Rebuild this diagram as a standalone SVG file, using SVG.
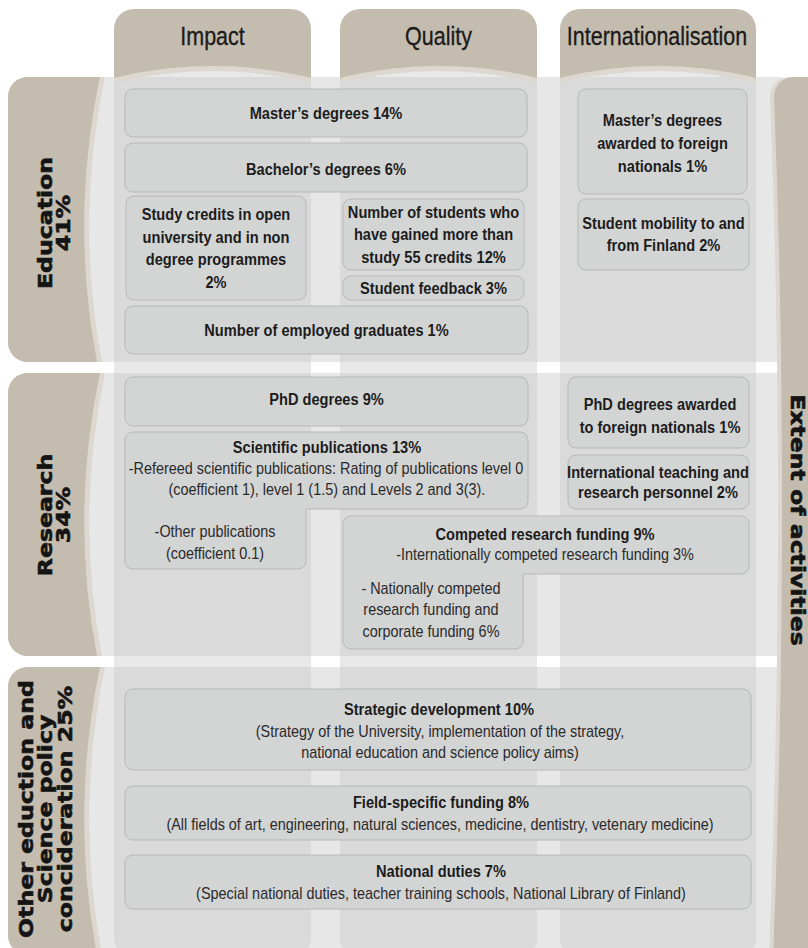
<svg xmlns="http://www.w3.org/2000/svg" width="808" height="948" viewBox="0 0 808 948">
<style>
.bg{fill:#ffffff}
.col{fill:#e8e8e8}
.colin{fill:#dadada}
.row{fill:#e7e7e7}
.beige{fill:#c4bcaf}
.band{fill:#ddd8cf}
.box{fill:#d3d4d4;stroke:#b8b8b8;stroke-width:1}
.hdr{font-family:'Liberation Sans',Arial,sans-serif;font-size:25px;fill:#1a1a1a;stroke:#1a1a1a;stroke-width:0.3px;text-anchor:middle}
.b{font-family:'Liberation Sans',Arial,sans-serif;font-size:17px;font-weight:bold;fill:#1c1c1c;text-anchor:middle}
.r{font-family:'Liberation Sans',Arial,sans-serif;font-size:16px;fill:#2a2a2a;text-anchor:middle}
.lab{font-family:'DejaVu Sans',sans-serif;font-size:20px;font-weight:bold;fill:#141414;stroke:#141414;stroke-width:0.6px;text-anchor:middle}
</style>
<defs>
<path id="colImpact" d="M114,60 H311 V940 A10 10 0 0 1 301,950 H124 A10 10 0 0 1 114,940 Z"/>
<path id="colQuality" d="M340,60 H537 V940 A10 10 0 0 1 527,950 H350 A10 10 0 0 1 340,940 Z"/>
<path id="colIntl" d="M560,60 H756 V940 A10 10 0 0 1 746,950 H570 A10 10 0 0 1 560,940 Z"/>
<clipPath id="rowsClip">
<rect x="8" y="77" width="800" height="285"/>
<rect x="8" y="373" width="800" height="283"/>
<rect x="8" y="667" width="800" height="290"/>
</clipPath>
</defs>
<rect class="bg" x="0" y="0" width="808" height="948"/>

<g id="background">
<use href="#colImpact" class="col"/>
<use href="#colQuality" class="col"/>
<use href="#colIntl" class="col"/>
<rect class="row" x="8" y="77" width="790" height="285" rx="20"/>
<rect class="row" x="8" y="373" width="790" height="283" rx="20"/>
<rect class="row" x="8" y="667" width="790" height="288" rx="20"/>
<g clip-path="url(#rowsClip)">
<use href="#colImpact" class="colin"/>
<use href="#colQuality" class="colin"/>
<use href="#colIntl" class="colin"/>
</g>
</g>

<g id="header-impact">
<path class="band" d="M114,83 V78 Q212.5,54 311,78 V83 Q212.5,59 114,83 Z"/>
<path class="beige" d="M114,78 V29 A20 20 0 0 1 134,9 H291 A20 20 0 0 1 311,29 V78 Q212.5,54 114,78 Z"/>
<text class="hdr" transform="translate(212.5 0) scale(.86 1)" x="0" y="45">Impact</text>
</g>
<g id="header-quality">
<path class="band" d="M340,83 V78 Q438.5,54 537,78 V83 Q438.5,59 340,83 Z"/>
<path class="beige" d="M340,78 V29 A20 20 0 0 1 360,9 H517 A20 20 0 0 1 537,29 V78 Q438.5,54 340,78 Z"/>
<text class="hdr" transform="translate(438.5 0) scale(.86 1)" x="0" y="45">Quality</text>
</g>
<g id="header-intl">
<path class="band" d="M560,83 V78 Q658,54 756,78 V83 Q658,59 560,83 Z"/>
<path class="beige" d="M560,78 V29 A20 20 0 0 1 580,9 H736 A20 20 0 0 1 756,29 V78 Q658,54 560,78 Z"/>
<text class="hdr" transform="translate(657 0) scale(.86 1)" x="0" y="45">Internationalisation</text>
</g>

<g id="row-education">
<path class="band" d="M28,77 H105 Q75,219.5 102,362 H28 A20 20 0 0 1 8,342 V97 A20 20 0 0 1 28,77 Z"/>
<path class="beige" d="M28,77 H100 Q70,219.5 97,362 H28 A20 20 0 0 1 8,342 V97 A20 20 0 0 1 28,77 Z"/>
<g transform="translate(0,223) rotate(-90) scale(1.18 1)">
<text class="lab" x="0" y="52">Education</text>
<text class="lab" x="0" y="70">41%</text>
</g>
</g>
<g id="row-research">
<path class="band" d="M28,373 H105 Q75,514.5 102,656 H28 A20 20 0 0 1 8,636 V393 A20 20 0 0 1 28,373 Z"/>
<path class="beige" d="M28,373 H100 Q70,514.5 97,656 H28 A20 20 0 0 1 8,636 V393 A20 20 0 0 1 28,373 Z"/>
<g transform="translate(0,515) rotate(-90) scale(1.18 1)">
<text class="lab" x="0" y="52">Research</text>
<text class="lab" x="0" y="70">34%</text>
</g>
</g>
<g id="row-other">
<path class="band" d="M28,667 H105 Q75,811 102,955 H28 A20 20 0 0 1 8,935 V687 A20 20 0 0 1 28,667 Z"/>
<path class="beige" d="M28,667 H100 Q70,811 97,955 H28 A20 20 0 0 1 8,935 V687 A20 20 0 0 1 28,667 Z"/>
<g transform="translate(0,809) rotate(-90) scale(1.18 1)">
<text class="lab" x="0" y="33">Other eduction and</text>
<text class="lab" x="0" y="52">Science policy</text>
<text class="lab" x="0" y="72">concideration 25%</text>
</g>
</g>
<g id="extent">
<path class="band" d="M770,97 A20 20 0 0 1 790,77 H830 V960 H769 Q786.5,512 770,97 Z"/>
<path class="beige" d="M774,97 A20 20 0 0 1 794,77 H830 V960 H773 Q790.5,512 774,97 Z"/>
<text class="lab" transform="translate(791,520) rotate(90) scale(1.18 1)" x="0" y="0">Extent of activities</text>
</g>

<g id="masters">
<rect class="box" x="125" y="89" width="402" height="48" rx="8"/>
<text class="b" transform="translate(326 0) scale(.86 1)" x="0" y="119">Master’s degrees 14%</text>
</g>
<g id="bachelors">
<rect class="box" x="125" y="143" width="402" height="49" rx="8"/>
<text class="b" transform="translate(326 0) scale(.86 1)" x="0" y="175">Bachelor’s degrees 6%</text>
</g>
<g id="study-credits">
<rect class="box" x="126" y="196" width="180" height="104" rx="8"/>
<g transform="translate(216 0) scale(.86 1)">
<text class="b" x="0" y="220">Study credits in open</text>
<text class="b" x="0" y="243">university and in non</text>
<text class="b" x="0" y="265">degree programmes</text>
<text class="b" x="0" y="288">2%</text>
</g>
</g>
<g id="students-55">
<rect class="box" x="343" y="199" width="181" height="71" rx="8"/>
<g transform="translate(433.5 0) scale(.86 1)">
<text class="b" x="0" y="218">Number of students who</text>
<text class="b" x="0" y="240">have gained more than</text>
<text class="b" x="0" y="263">study 55 credits 12%</text>
</g>
</g>
<g id="feedback">
<rect class="box" x="343" y="276" width="181" height="24" rx="8"/>
<text class="b" transform="translate(433.5 0) scale(.86 1)" x="0" y="294">Student feedback 3%</text>
</g>
<g id="employed">
<rect class="box" x="125" y="306" width="403" height="48" rx="8"/>
<text class="b" transform="translate(326.5 0) scale(.86 1)" x="0" y="336">Number of employed graduates 1%</text>
</g>
<g id="intl-masters">
<rect class="box" x="578" y="89" width="169" height="105" rx="8"/>
<g transform="translate(662.5 0) scale(.86 1)">
<text class="b" x="0" y="126">Master’s degrees</text>
<text class="b" x="0" y="149">awarded to foreign</text>
<text class="b" x="0" y="172">nationals 1%</text>
</g>
</g>
<g id="mobility">
<rect class="box" x="578" y="199" width="171" height="71" rx="8"/>
<g transform="translate(663.5 0) scale(.86 1)">
<text class="b" x="0" y="229">Student mobility to and</text>
<text class="b" x="0" y="251">from Finland 2%</text>
</g>
</g>

<g id="phd">
<rect class="box" x="125" y="377" width="403" height="49" rx="8"/>
<text class="b" transform="translate(326.5 0) scale(.86 1)" x="0" y="405">PhD degrees 9%</text>
</g>
<g id="publications">
<path class="box" d="M133,432 H520 A8 8 0 0 1 528,440 V501 A8 8 0 0 1 520,509 H306 V561 A8 8 0 0 1 298,569 H133 A8 8 0 0 1 125,561 V440 A8 8 0 0 1 133,432 Z"/>
<text class="b" transform="translate(327 0) scale(.86 1)" x="0" y="453">Scientific publications 13%</text>
<g transform="translate(326 0) scale(.9 1)">
<text class="r" x="0" y="474">-Refereed scientific publications: Rating of publications level 0</text>
<text class="r" x="1" y="495">(coefficient 1), level 1 (1.5) and Levels 2 and 3(3).</text>
</g>
<g transform="translate(215 0) scale(.9 1)">
<text class="r" x="0" y="537">-Other publications</text>
<text class="r" x="0" y="559">(coefficient 0.1)</text>
</g>
</g>
<g id="phd-foreign">
<rect class="box" x="568" y="377" width="181" height="71" rx="8"/>
<g transform="translate(660 0) scale(.86 1)">
<text class="b" x="0" y="410">PhD degrees awarded</text>
<text class="b" x="0" y="433">to foreign nationals 1%</text>
</g>
</g>
<g id="intl-personnel">
<rect class="box" x="568" y="455" width="181" height="54" rx="8"/>
<g transform="translate(658 0) scale(.86 1)">
<text class="b" x="0" y="478">International teaching and</text>
<text class="b" x="0" y="498">research personnel 2%</text>
</g>
</g>
<g id="competed">
<path class="box" d="M351,516 H741 A8 8 0 0 1 749,524 V566 A8 8 0 0 1 741,574 H523 V641 A8 8 0 0 1 515,649 H351 A8 8 0 0 1 343,641 V524 A8 8 0 0 1 351,516 Z"/>
<text class="b" transform="translate(545 0) scale(.86 1)" x="0" y="540">Competed research funding 9%</text>
<text class="r" transform="translate(545 0) scale(.9 1)" x="0" y="560">-Internationally competed research funding 3%</text>
<g transform="translate(431 0) scale(.9 1)">
<text class="r" x="0" y="594">- Nationally competed</text>
<text class="r" x="0" y="615">research funding and</text>
<text class="r" x="0" y="637">corporate funding 6%</text>
</g>
</g>

<g id="strategic">
<rect class="box" x="125" y="689" width="626" height="81" rx="8"/>
<text class="b" transform="translate(439 0) scale(.86 1)" x="0" y="715">Strategic development 10%</text>
<g transform="translate(440 0) scale(.9 1)">
<text class="r" x="0" y="737">(Strategy of the University, implementation of the strategy,</text>
<text class="r" x="0" y="758">national education and science policy aims)</text>
</g>
</g>
<g id="field-specific">
<rect class="box" x="125" y="786" width="626" height="54" rx="8"/>
<text class="b" transform="translate(441 0) scale(.86 1)" x="0" y="808">Field-specific funding 8%</text>
<text class="r" transform="translate(440 0) scale(.9 1)" x="0" y="830">(All fields of art, engineering, natural sciences, medicine, dentistry, vetenary medicine)</text>
</g>
<g id="national-duties">
<rect class="box" x="125" y="855" width="626" height="54" rx="8"/>
<text class="b" transform="translate(441 0) scale(.86 1)" x="0" y="877">National duties 7%</text>
<text class="r" transform="translate(441 0) scale(.9 1)" x="0" y="899">(Special national duties, teacher training schools, National Library of Finland)</text>
</g>
<g id="connectors"></g>
</svg>
